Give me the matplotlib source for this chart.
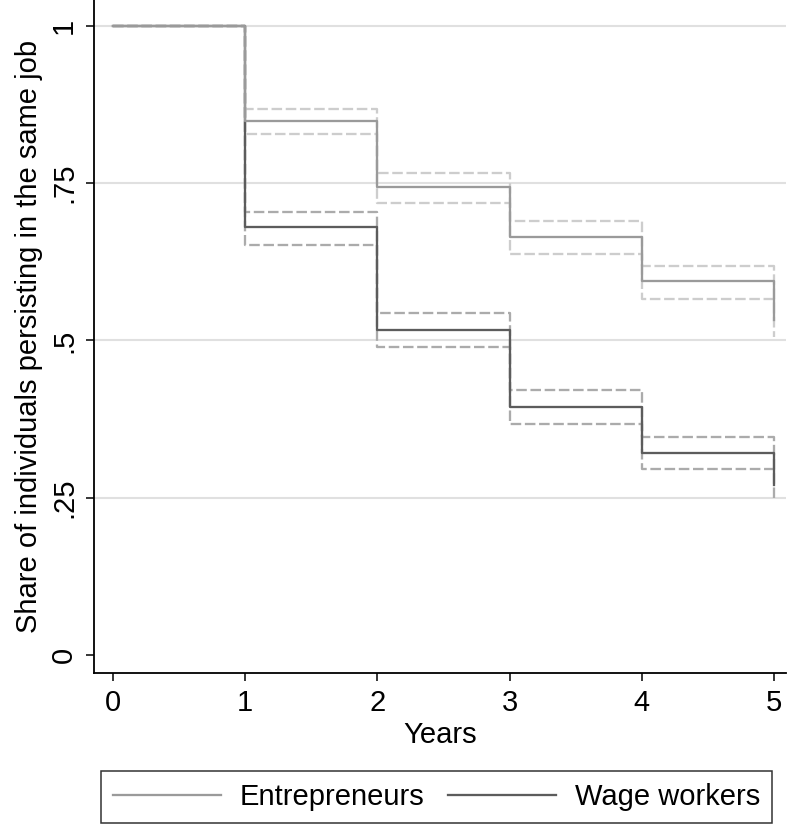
import matplotlib
matplotlib.use("Agg")
import matplotlib.pyplot as plt
from matplotlib.lines import Line2D

plt.rcParams['font.family'] = ['Liberation Sans', 'DejaVu Sans']

# Kaplan-Meier style step values
years = [0, 1, 2, 3, 4, 5]
entre_surv = [1.0, 0.849, 0.744, 0.665, 0.594, 0.533]
entre_hi = [1.0, 0.868, 0.766, 0.689, 0.619, 0.560]
entre_lo = [1.0, 0.828, 0.718, 0.638, 0.566, 0.506]
wage_surv = [1.0, 0.680, 0.516, 0.394, 0.321, 0.270]
wage_hi = [1.0, 0.704, 0.543, 0.421, 0.346, 0.295]
wage_lo = [1.0, 0.652, 0.490, 0.367, 0.295, 0.246]

y_ticks = [0, 0.25, 0.5, 0.75, 1]
y_ticklabels = ['0', '.25', '.5', '.75', '1']
labels = ['Entrepreneurs', 'Wage workers']

c_entre = '#9a9a9a'
c_entre_ci = '#cdcdcd'
c_wage = '#5c5c5c'
c_wage_ci = '#ababab'

W, H = 787, 825
fs = 21
fig = plt.figure(figsize=(W / 100, H / 100), dpi=100)
ax = fig.add_axes([94 / W, 1 - 673 / H, (786 - 94) / W, 673 / H])

ax.set_xlim(-0.143, 5.09)
ax.set_ylim(-0.0286, 1.041)

# grid
for yv in y_ticks[1:]:
    ax.axhline(yv, color='#e0e0e0', lw=1.5, zorder=0)

dash = (4.6, 1.6)
lw = 1.65
ax.step(years, wage_hi, where='post', color=c_wage_ci, lw=lw, dashes=dash, zorder=2)
ax.step(years, wage_lo, where='post', color=c_wage_ci, lw=lw, dashes=dash, zorder=2)
ax.step(years, entre_hi, where='post', color=c_entre_ci, lw=lw, dashes=dash, zorder=2)
ax.step(years, entre_lo, where='post', color=c_entre_ci, lw=lw, dashes=dash, zorder=2)
ax.step(years, wage_surv, where='post', color=c_wage, lw=lw, zorder=3)
ax.step(years, entre_surv, where='post', color=c_entre, lw=lw, zorder=4)

for s in ['top', 'right']:
    ax.spines[s].set_visible(False)
for s in ['left', 'bottom']:
    ax.spines[s].set_linewidth(1.3)

ax.set_yticks(y_ticks)
ax.set_yticklabels(y_ticklabels, rotation=90, va='center')
ax.set_xticks(years)
ax.tick_params(axis='both', labelsize=fs, length=5.5, width=1.1, direction='out')
ax.tick_params(axis='x', pad=6)
ax.tick_params(axis='y', pad=6)

ax.set_xlabel('Years', fontsize=fs, labelpad=3)
ax.set_ylabel('Share of individuals persisting in the same job', fontsize=fs, labelpad=5)

handles = [Line2D([], [], color=c_entre, lw=lw), Line2D([], [], color=c_wage, lw=lw)]
leg = fig.legend(handles, labels, loc='center',
                 bbox_to_anchor=(436.5 / W, 1 - 797 / H),
                 ncol=2, frameon=True, fancybox=False,
                 edgecolor='black', fontsize=fs, handlelength=3.7,
                 columnspacing=0.8, handletextpad=0.65,
                 borderpad=0.4, borderaxespad=0)
leg.get_frame().set_linewidth(1.1)

fig.savefig('out.png', dpi=100)
